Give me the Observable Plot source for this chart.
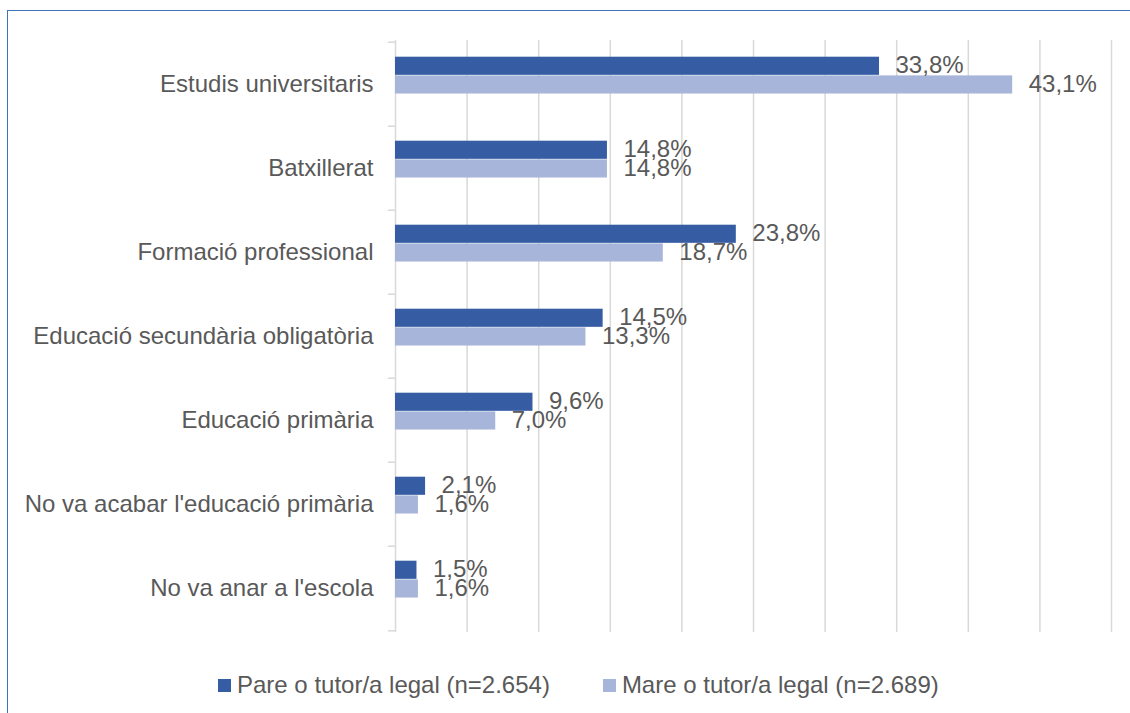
<!DOCTYPE html>
<html><head><meta charset="utf-8">
<script src="https://cdn.jsdelivr.net/npm/d3@7"></script>
<script src="https://cdn.jsdelivr.net/npm/@observablehq/plot@0.6"></script>
<style>
body{margin:0;background:#fff;overflow:hidden;font-family:"Liberation Sans",Arial,sans-serif;}
#wrap{position:relative;width:1130px;height:713px;overflow:hidden;}
#border{position:absolute;left:7px;top:10px;width:1300px;height:900px;border-left:1.5px solid #3f74b4;border-top:1.5px solid #3f74b4;}
#chart{position:absolute;left:0;top:0;}
#legend{position:absolute;left:218px;top:671px;display:flex;align-items:center;font-size:24px;color:#595959;white-space:nowrap;}
.item{display:flex;align-items:center;}
.sw{width:13px;height:13px;margin-right:6px;}
</style>
</head><body>
<div id="wrap"><div id="border"></div><div id="chart"></div><div id="legend"></div></div>
<script>
const categories = ["Estudis universitaris","Batxillerat","Formació professional","Educació secundària obligatòria","Educació primària","No va acabar l'educació primària","No va anar a l'escola"];
const pare = [33.8,14.8,23.8,14.5,9.6,2.1,1.5];
const mare = [43.1,14.8,18.7,13.3,7.0,1.6,1.6];
const seriesNames = ["Pare o tutor/a legal (n=2.654)","Mare o tutor/a legal (n=2.689)"];
const seriesColors = ["#365da3","#a8b5da"];
const gridTicks = [0,5,10,15,20,25,30,35,40,45,50];

const rows = categories.map((c,i)=>({cat:c, pare:pare[i], mare:mare[i]}));
const fmt = v => d3.format(".1f")(v).replace(".", ",") + "%";
const plotTop = 40, plotBottom = 632;
const bw = (plotBottom - plotTop) / categories.length;

const chart = Plot.plot({
  width:1130, height:650,
  marginLeft:395, marginRight:19, marginTop:plotTop, marginBottom:650-plotBottom,
  x:{domain:[0,50], axis:null},
  y:{domain:categories, padding:0, axis:null, label:null},
  style:{fontFamily:'"Liberation Sans",Arial,sans-serif', fontSize:"24px", color:"#595959", background:"transparent"},
  marks:[
    Plot.ruleX(gridTicks,{stroke:"#d9d9d9", strokeWidth:1.5}),
    Plot.axisY({tickSize:0, tickPadding:22, fontSize:24, fill:"#595959", label:null}),
    Plot.axisY({tickSize:7, tickFormat:()=>"", dy:-bw/2, stroke:"#d9d9d9", strokeWidth:1.5, label:null}),
    Plot.axisY([categories[categories.length-1]], {tickSize:7, tickFormat:()=>"", dy:bw/2, stroke:"#d9d9d9", strokeWidth:1.5, label:null}),
    Plot.barX(rows,{x:"pare", y:"cat", fill:seriesColors[0], insetTop:14.7, insetBottom:bw-33.4}),
    Plot.barX(rows,{x:"mare", y:"cat", fill:seriesColors[1], insetTop:33.4, insetBottom:bw-52.1}),
    Plot.text(rows,{x:"pare", y:"cat", text:d=>fmt(d.pare), dx:16, dy:-19, textAnchor:"start", fill:"#595959", fontSize:24}),
    Plot.text(rows,{x:"mare", y:"cat", text:d=>fmt(d.mare), dx:16, dy:0, textAnchor:"start", fill:"#595959", fontSize:24})
  ]
});
document.getElementById("chart").appendChild(chart);

const leg = document.getElementById("legend");
seriesNames.forEach((n,i)=>{
  const it = document.createElement("div");
  it.className="item";
  if(i>0) it.style.marginLeft="53px";
  const sw = document.createElement("div");
  sw.className="sw"; sw.style.background=seriesColors[i];
  const t = document.createElement("span"); t.textContent=n;
  it.appendChild(sw); it.appendChild(t); leg.appendChild(it);
});
</script>
</body></html>
